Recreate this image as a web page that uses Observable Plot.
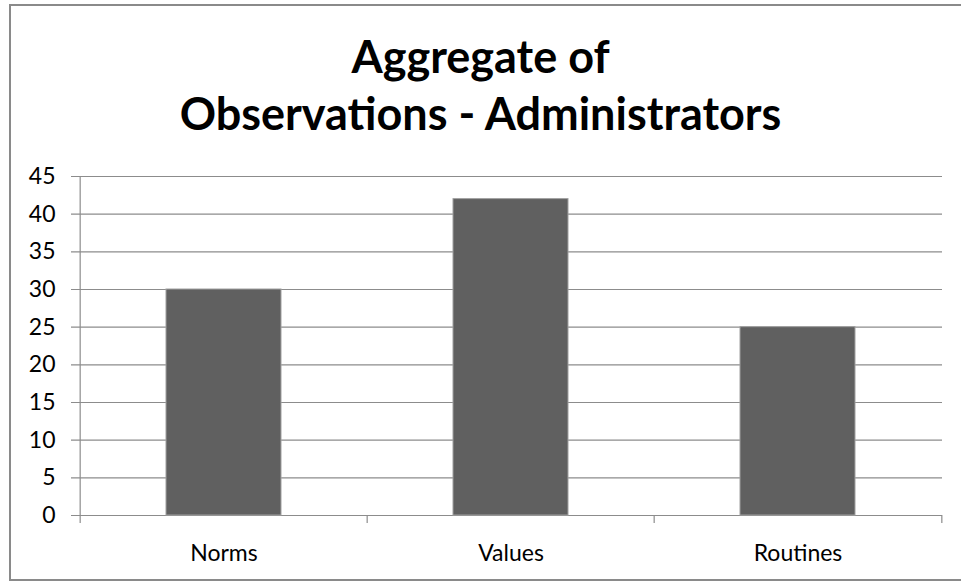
<!DOCTYPE html>
<html>
<head>
<meta charset="utf-8">
<script src="https://cdn.jsdelivr.net/npm/d3@7"></script>
<script src="https://cdn.jsdelivr.net/npm/@observablehq/plot@0.6"></script>
<style>
  html, body { margin: 0; padding: 0; background: #fff; }
  #wrap { position: relative; width: 961px; height: 582px; overflow: hidden; font-family: Lato, "Open Sans", sans-serif; }
  #frame { position: absolute; left: 9px; top: 4px; width: 980px; height: 577px; border: 2.5px solid #8a8a8a; box-sizing: border-box; }
  #title { position: absolute; left: 0; top: 28px; width: 961px; text-align: center; font-weight: bold; font-size: 45px; line-height: 57px; color: #000; }
  #chart { position: absolute; left: 0; top: 0; }
</style>
</head>
<body>
<div id="wrap">
  <div id="frame"></div>
  <div id="title">Aggregate of<br>Observations - Administrators</div>
  <div id="chart"></div>
</div>
<script>
const categories = ["Norms", "Values", "Routines"];
const values = [30, 42, 25];
const yTicks = [0, 5, 10, 15, 20, 25, 30, 35, 40, 45];

const data = categories.map((c, i) => ({category: c, value: values[i]}));

const W = 961, H = 582;
const mL = 79, mR = 19, mT = 176, mB = 67;
const step = (W - mL - mR) / categories.length;
const grid = "#8c8c8c";

const chart = Plot.plot({
  width: W,
  height: H,
  marginLeft: mL,
  marginRight: mR,
  marginTop: mT,
  marginBottom: mB,
  style: {fontFamily: "Lato, 'Open Sans', sans-serif", fontSize: "23px", color: "#000", background: "transparent"},
  x: {domain: categories, paddingInner: 0.6, paddingOuter: 0.3, label: null},
  y: {domain: [0, 45], label: null},
  marks: [
    Plot.ruleY(yTicks, {stroke: grid, strokeWidth: 1.2, insetLeft: -8}),
    Plot.barY(data, {x: "category", y: "value", fill: "#606060", stroke: "#a0a0a0", strokeWidth: 1}),
    Plot.ruleX([categories[0]], {dx: -step / 2, stroke: grid, strokeWidth: 1.2, insetBottom: -8}),
    Plot.ruleX(categories.slice(1), {dx: -step / 2, stroke: grid, strokeWidth: 1.2, insetTop: H - mT - mB, insetBottom: -8}),
    Plot.ruleX([categories[categories.length - 1]], {dx: step / 2, stroke: grid, strokeWidth: 1.2, insetTop: H - mT - mB, insetBottom: -8}),
    Plot.axisY({ticks: yTicks, tickSize: 0, tickPadding: 24, fontSize: 23, fill: "#000"}),
    Plot.axisX({tickSize: 0, tickPadding: 29, fontSize: 23, fill: "#000"})
  ]
});
document.getElementById("chart").appendChild(chart);
</script>
</body>
</html>
